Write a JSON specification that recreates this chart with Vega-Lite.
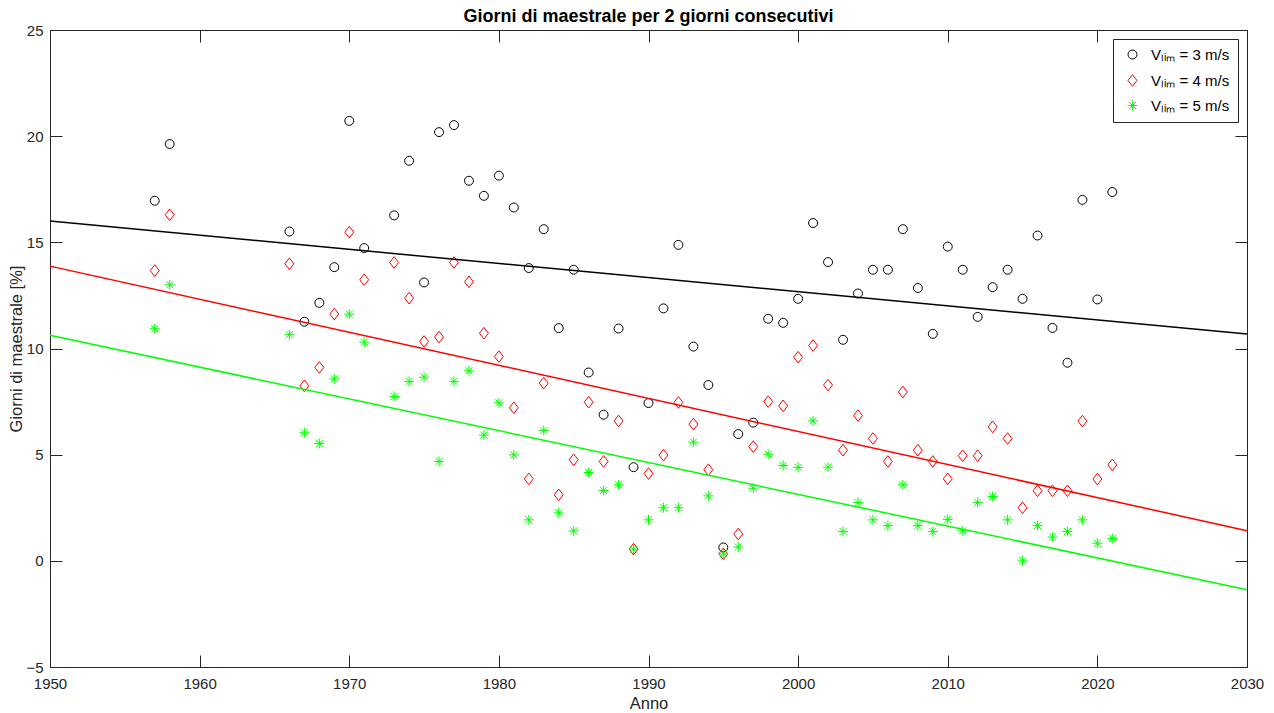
{
  "$schema": "https://vega.github.io/schema/vega-lite/v6.json",
  "width": 1197,
  "height": 637,
  "autosize": {"type": "none"},
  "padding": {"left": 50, "top": 30, "right": 27, "bottom": 46},
  "background": "white",
  "title": {"text": "Giorni di maestrale per 2 giorni consecutivi", "font": "Liberation Sans", "fontSize": 18, "fontWeight": "bold", "color": "#000000", "anchor": "middle", "offset": -3},
  "config": {
    "view": {"stroke": "#262626", "strokeWidth": 1},
    "font": "Liberation Sans",
    "axis": {"grid": false, "domainColor": "#262626", "tickColor": "#262626", "labelColor": "#262626", "titleColor": "#262626", "labelFont": "Liberation Sans", "titleFont": "Liberation Sans", "labelFontSize": 15, "titleFontSize": 16.5, "titleFontWeight": "normal", "tickSize": -12, "domainWidth": 1, "tickWidth": 1, "labelFlush": false, "labelOverlap": false, "labelBound": false},
    "legend": {"orient": "top-right", "offset": 9, "fillColor": "white", "strokeColor": "#262626", "padding": 8, "labelFont": "Liberation Sans", "labelFontSize": 15, "labelColor": "#000000", "symbolSize": 80, "symbolStrokeWidth": 1, "rowPadding": 9, "labelOffset": 11, "symbolOffset": 4}
  },
  "datasets": {
    "punti": [
      {"anno": 1957, "v3": 16.96, "v4": 13.67, "v5": 10.93},
      {"anno": 1958, "v3": 19.63, "v4": 16.30, "v5": 13.00},
      {"anno": 1966, "v3": 15.51, "v4": 13.99, "v5": 10.65},
      {"anno": 1967, "v3": 11.26, "v4": 8.24, "v5": 6.03},
      {"anno": 1968, "v3": 12.15, "v4": 9.11, "v5": 5.53},
      {"anno": 1969, "v3": 13.83, "v4": 11.62, "v5": 8.57},
      {"anno": 1970, "v3": 20.72, "v4": 15.48, "v5": 11.62},
      {"anno": 1971, "v3": 14.73, "v4": 13.24, "v5": 10.30},
      {"anno": 1973, "v3": 16.27, "v4": 14.05, "v5": 7.74},
      {"anno": 1974, "v3": 18.84, "v4": 12.37, "v5": 8.45},
      {"anno": 1975, "v3": 13.11, "v4": 10.33, "v5": 8.65},
      {"anno": 1976, "v3": 20.19, "v4": 10.54, "v5": 4.68},
      {"anno": 1977, "v3": 20.52, "v4": 14.05, "v5": 8.45},
      {"anno": 1978, "v3": 17.90, "v4": 13.14, "v5": 8.95},
      {"anno": 1979, "v3": 17.19, "v4": 10.72, "v5": 5.92},
      {"anno": 1980, "v3": 18.14, "v4": 9.62, "v5": 7.44},
      {"anno": 1981, "v3": 16.64, "v4": 7.21, "v5": 4.99},
      {"anno": 1982, "v3": 13.79, "v4": 3.86, "v5": 1.93},
      {"anno": 1983, "v3": 15.62, "v4": 8.37, "v5": 6.14},
      {"anno": 1984, "v3": 10.96, "v4": 3.11, "v5": 2.26},
      {"anno": 1985, "v3": 13.71, "v4": 4.76, "v5": 1.41},
      {"anno": 1986, "v3": 8.87, "v4": 7.47, "v5": 4.16},
      {"anno": 1987, "v3": 6.88, "v4": 4.68, "v5": 3.31},
      {"anno": 1988, "v3": 10.94, "v4": 6.59, "v5": 3.58},
      {"anno": 1989, "v3": 4.41, "v4": 0.55, "v5": 0.55},
      {"anno": 1990, "v3": 7.43, "v4": 4.11, "v5": 1.93},
      {"anno": 1991, "v3": 11.89, "v4": 4.98, "v5": 2.50},
      {"anno": 1992, "v3": 14.88, "v4": 7.46, "v5": 2.50},
      {"anno": 1993, "v3": 10.09, "v4": 6.44, "v5": 5.59},
      {"anno": 1994, "v3": 8.28, "v4": 4.29, "v5": 3.06},
      {"anno": 1995, "v3": 0.63, "v4": 0.33, "v5": 0.33},
      {"anno": 1996, "v3": 5.97, "v4": 1.26, "v5": 0.65},
      {"anno": 1997, "v3": 6.51, "v4": 5.38, "v5": 3.42},
      {"anno": 1998, "v3": 11.40, "v4": 7.50, "v5": 5.02},
      {"anno": 1999, "v3": 11.21, "v4": 7.30, "v5": 4.49},
      {"anno": 2000, "v3": 12.34, "v4": 9.59, "v5": 4.40},
      {"anno": 2001, "v3": 15.91, "v4": 10.14, "v5": 6.59},
      {"anno": 2002, "v3": 14.07, "v4": 8.28, "v5": 4.41},
      {"anno": 2003, "v3": 10.41, "v4": 5.21, "v5": 1.38},
      {"anno": 2004, "v3": 12.59, "v4": 6.84, "v5": 2.75},
      {"anno": 2005, "v3": 13.71, "v4": 5.76, "v5": 1.93},
      {"anno": 2006, "v3": 13.71, "v4": 4.68, "v5": 1.66},
      {"anno": 2007, "v3": 15.62, "v4": 7.95, "v5": 3.58},
      {"anno": 2008, "v3": 12.85, "v4": 5.21, "v5": 1.66},
      {"anno": 2009, "v3": 10.69, "v4": 4.68, "v5": 1.38},
      {"anno": 2010, "v3": 14.80, "v4": 3.86, "v5": 1.95},
      {"anno": 2011, "v3": 13.71, "v4": 4.95, "v5": 1.41},
      {"anno": 2012, "v3": 11.49, "v4": 4.95, "v5": 2.75},
      {"anno": 2013, "v3": 12.89, "v4": 6.31, "v5": 3.03},
      {"anno": 2014, "v3": 13.71, "v4": 5.76, "v5": 1.93},
      {"anno": 2015, "v3": 12.34, "v4": 2.50, "v5": 0.00},
      {"anno": 2016, "v3": 15.32, "v4": 3.30, "v5": 1.66},
      {"anno": 2017, "v3": 10.97, "v4": 3.30, "v5": 1.12},
      {"anno": 2018, "v3": 9.33, "v4": 3.30, "v5": 1.38},
      {"anno": 2019, "v3": 17.00, "v4": 6.58, "v5": 1.93},
      {"anno": 2020, "v3": 12.31, "v4": 3.85, "v5": 0.83},
      {"anno": 2021, "v3": 17.37, "v4": 4.52, "v5": 1.05}
    ],
    "trend": [
      {"anno": 1950, "k": "v3", "giorni": 16.0},
      {"anno": 2030, "k": "v3", "giorni": 10.68},
      {"anno": 1950, "k": "v4", "giorni": 13.88},
      {"anno": 2030, "k": "v4", "giorni": 1.42},
      {"anno": 1950, "k": "v5", "giorni": 10.62},
      {"anno": 2030, "k": "v5", "giorni": -1.36}
    ]
  },
  "layer": [
    {
      "data": {"name": "punti"},
      "transform": [{"fold": ["v3", "v4", "v5"], "as": ["k", "giorni"]}],
      "mark": {"type": "point", "filled": false, "strokeWidth": 1, "size": 80, "opacity": 1},
      "encoding": {
        "x": {"field": "anno", "type": "quantitative", "scale": {"domain": [1950, 2030], "nice": false, "zero": false}, "axis": {"orient": "bottom", "title": "Anno", "values": [1950, 1960, 1970, 1980, 1990, 2000, 2010, 2020, 2030], "format": "d", "labelPadding": 21, "titlePadding": 4}},
        "y": {"field": "giorni", "type": "quantitative", "scale": {"domain": [-5, 25], "nice": false, "zero": false}, "axis": {"orient": "left", "title": "Giorni di maestrale [%]", "values": [-5, 0, 5, 10, 15, 20, 25], "labelPadding": 19, "titlePadding": 1}},
        "color": {"field": "k", "type": "nominal", "scale": {"domain": ["v3", "v4", "v5"], "range": ["#000000", "#ff0000", "#00ff00"]}, "legend": {"title": null, "labelExpr": "'V\u2097\u1d62\u2098 = ' + slice(datum.label, 1) + ' m/s'"}},
        "shape": {"field": "k", "type": "nominal", "scale": {"domain": ["v3", "v4", "v5"], "range": ["circle", "M0,-1.3L1,0L0,1.3L-1,0Z", "M-1.1,0L1.1,0M0,-1.1L0,1.1M-0.78,-0.78L0.78,0.78M-0.78,0.78L0.78,-0.78"]}, "legend": {"title": null, "labelExpr": "'V\u2097\u1d62\u2098 = ' + slice(datum.label, 1) + ' m/s'"}}
      }
    },
    {
      "data": {"name": "trend"},
      "mark": {"type": "line", "strokeWidth": 1.5},
      "encoding": {
        "x": {"field": "anno", "type": "quantitative", "axis": {"orient": "top", "title": null, "labels": false, "values": [1950, 1960, 1970, 1980, 1990, 2000, 2010, 2020, 2030]}},
        "y": {"field": "giorni", "type": "quantitative", "axis": {"orient": "right", "title": null, "labels": false, "values": [-5, 0, 5, 10, 15, 20, 25]}},
        "stroke": {"field": "k", "type": "nominal", "scale": {"domain": ["v3", "v4", "v5"], "range": ["#000000", "#ff0000", "#00ff00"]}, "legend": null},
        "detail": {"field": "k"}
      }
    }
  ]
}
